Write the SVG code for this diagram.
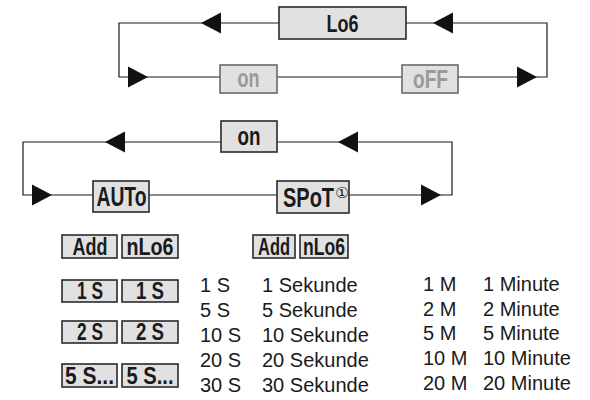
<svg xmlns="http://www.w3.org/2000/svg" xmlns:xlink="http://www.w3.org/1999/xlink" width="590" height="400" viewBox="0 0 590 400">
<style>
.ln{fill:none;stroke:#1a1a1a;stroke-width:1.2}
.box{fill:#e1e1e1;stroke:#2a2a2a;stroke-width:1.6}
.gbox{fill:#e1e1e1;stroke:#6a6a6a;stroke-width:1.6}
.bt{font-family:"Liberation Sans",Arial,sans-serif;font-weight:bold;fill:#1a1a1a;text-anchor:middle}
.gt{fill:#9a9a9a}
.lt{font-family:"Liberation Sans",Arial,sans-serif;font-size:20px;fill:#1a1a1a}
.sup{font-family:"DejaVu Sans","Noto Sans CJK JP",sans-serif;font-size:15px;fill:#1a1a1a;font-weight:normal;text-anchor:middle}
.ah{fill:#111}
.f23{font-size:23px}
.f25{font-size:25px}
.f27{font-size:27px}
</style>
<defs>
<path id="aR" d="M0,-10.5 L20,0 L0,10.5 Z"/>
<path id="aL" d="M0,-10.5 L-20,0 L0,10.5 Z"/>
</defs>
<g id="connectors">
<path class="ln" d="M279,23 H119 V77 H547 V23 H406"/>
<path class="ln" d="M221,142 H23 V195 H452 V142 H277"/>
<use class="ah" xlink:href="#aL" x="221" y="23"/>
<use class="ah" xlink:href="#aL" x="453" y="23"/>
<use class="ah" xlink:href="#aR" x="128" y="77"/>
<use class="ah" xlink:href="#aR" x="517" y="77"/>
<use class="ah" xlink:href="#aL" x="125" y="142"/>
<use class="ah" xlink:href="#aL" x="358" y="142"/>
<use class="ah" xlink:href="#aR" x="32" y="195"/>
<use class="ah" xlink:href="#aR" x="421" y="195"/>
</g>
<g id="lo6"><rect class="box" x="279" y="7" width="127" height="32"/><text class="bt f23" x="342.5" y="31.5" textLength="32" lengthAdjust="spacingAndGlyphs">Lo6</text></g>
<g id="on1"><rect class="gbox" x="220" y="65" width="57" height="28"/><text class="bt gt f25" x="248.5" y="86.5" textLength="22" lengthAdjust="spacingAndGlyphs">on</text></g>
<g id="off"><rect class="gbox" x="402" y="65" width="56" height="28"/><text class="bt gt f25" x="430.5" y="88" textLength="35" lengthAdjust="spacingAndGlyphs">oFF</text></g>
<g id="on2"><rect class="box" x="221" y="121" width="56" height="31"/><text class="bt f25" x="249" y="145" textLength="23" lengthAdjust="spacingAndGlyphs">on</text></g>
<g id="auto"><rect class="box" x="93" y="181" width="56" height="31"/><text class="bt f27" x="121.5" y="205.5" textLength="50" lengthAdjust="spacingAndGlyphs">AUTo</text></g>
<g id="spot"><rect class="box" x="277" y="181" width="72" height="32"/><text class="bt f27" transform="translate(308.5,206.5) scale(0.74,1)">SPoT</text><text class="sup" x="342" y="198">①</text></g>
<g id="add1"><rect class="box" x="62" y="235" width="55" height="23"/><text class="bt f23" x="90" y="254.5" textLength="35" lengthAdjust="spacingAndGlyphs">Add</text></g>
<g id="nlo6a"><rect class="box" x="122" y="235" width="56" height="23"/><text class="bt f23" x="150" y="254.5" textLength="47" lengthAdjust="spacingAndGlyphs">nLo6</text></g>
<g id="s1a"><rect class="box" x="62" y="280" width="55" height="22"/><text class="bt f23" x="90" y="299" textLength="26" lengthAdjust="spacingAndGlyphs">1 S</text></g>
<g id="s1b"><rect class="box" x="122" y="280" width="56" height="22"/><text class="bt f23" x="150" y="299" textLength="28" lengthAdjust="spacingAndGlyphs">1 S</text></g>
<g id="s2a"><rect class="box" x="62" y="321" width="55" height="22"/><text class="bt f23" x="90" y="340" textLength="26" lengthAdjust="spacingAndGlyphs">2 S</text></g>
<g id="s2b"><rect class="box" x="122" y="321" width="56" height="22"/><text class="bt f23" x="150" y="340" textLength="28" lengthAdjust="spacingAndGlyphs">2 S</text></g>
<g id="s5a"><rect class="box" x="62" y="364" width="55" height="23"/><text class="bt f23" x="89.5" y="383.5" textLength="49" lengthAdjust="spacingAndGlyphs">5 S...</text></g>
<g id="s5b"><rect class="box" x="122" y="364" width="56" height="23"/><text class="bt f23" x="150" y="383.5" textLength="47" lengthAdjust="spacingAndGlyphs">5 S...</text></g>
<g id="add2"><rect class="box" x="253" y="235" width="42" height="23"/><text class="bt f23" x="274" y="254.5" textLength="32" lengthAdjust="spacingAndGlyphs">Add</text></g>
<g id="nlo6b"><rect class="box" x="300" y="235" width="48" height="23"/><text class="bt f23" x="324" y="254.5" textLength="42" lengthAdjust="spacingAndGlyphs">nLo6</text></g>
<g id="seconds" class="lt">
<text x="200" y="292">1 S</text><text x="262" y="292">1 Sekunde</text>
<text x="200" y="317">5 S</text><text x="262" y="317">5 Sekunde</text>
<text x="200" y="342">10 S</text><text x="262" y="342">10 Sekunde</text>
<text x="200" y="367">20 S</text><text x="262" y="367">20 Sekunde</text>
<text x="200" y="392">30 S</text><text x="262" y="392">30 Sekunde</text>
</g>
<g id="minutes" class="lt">
<text x="423" y="291">1 M</text><text x="483" y="291">1 Minute</text>
<text x="423" y="316">2 M</text><text x="483" y="316">2 Minute</text>
<text x="423" y="340">5 M</text><text x="483" y="340">5 Minute</text>
<text x="423" y="365">10 M</text><text x="483" y="365">10 Minute</text>
<text x="423" y="390">20 M</text><text x="483" y="390">20 Minute</text>
</g>
</svg>
